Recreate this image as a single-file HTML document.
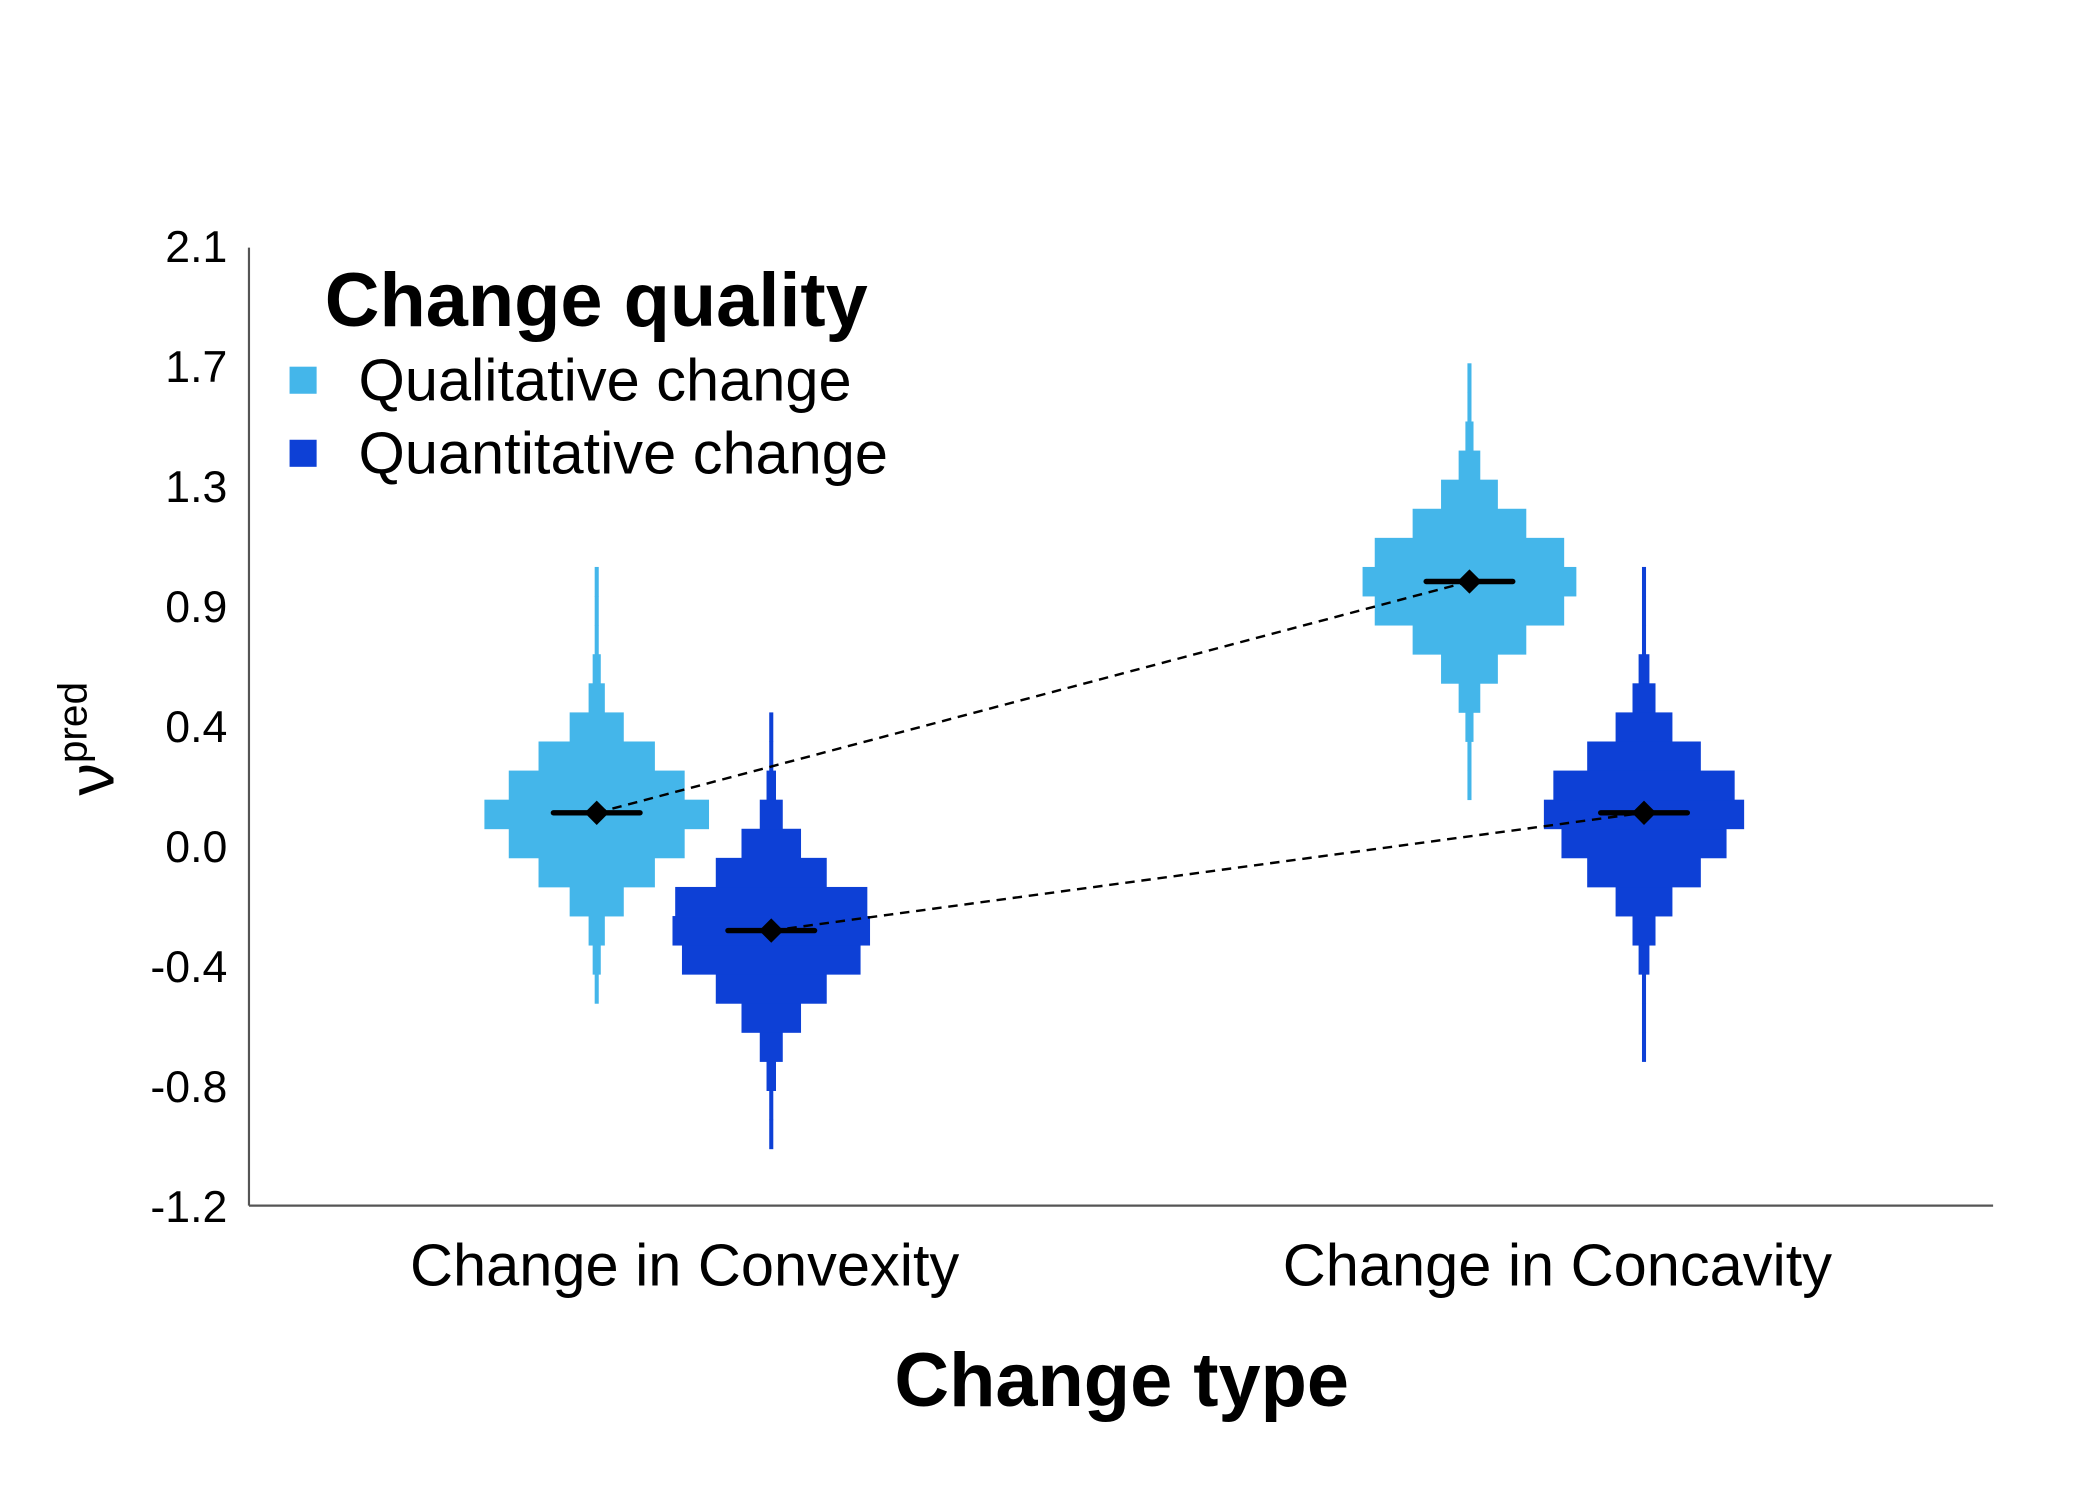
<!DOCTYPE html>
<html><head><meta charset="utf-8"><style>
html,body{margin:0;padding:0;background:#fff;}
svg{display:block;font-family:"Liberation Sans",sans-serif;}
</style></head><body>
<svg id="chart" width="2100" height="1500" viewBox="0 0 1552 1108.57" preserveAspectRatio="none" xmlns="http://www.w3.org/2000/svg">
<g id="marks"></g>
<line x1="184" y1="183" x2="184" y2="891" stroke="#555" stroke-width="1.6"/>
<line x1="184" y1="891" x2="1473" y2="891" stroke="#555" stroke-width="1.6"/>
<g id="yticks"></g>
<g id="xticks"></g>
<text x="829" y="1039" text-anchor="middle" font-size="56" font-weight="bold">Change type</text>
<text transform="translate(84,588) rotate(-90)" font-size="48">ν<tspan font-size="30" dy="-20">pred</tspan></text>
<g>
<text x="240" y="241" font-size="56" font-weight="bold">Change quality</text>
<rect x="214" y="271" width="20" height="20" fill="#44b6ea"/>
<text x="265" y="296" font-size="44">Qualitative change</text>
<rect x="214" y="325" width="20" height="20" fill="#0d40d6"/>
<text x="265" y="350" font-size="44">Quantitative change</text>
</g>
</svg>
<script>
const categories = ["Change in Convexity", "Change in Concavity"];
const groups = ["Qualitative change", "Quantitative change"];
const colors = ["#44b6ea", "#0d40d6"];
const binSize = 0.1;
// violin data: [category][group]
const binStarts = [[-0.5, -1.0], [0.2, -0.7]];
const densConvQual = [1.5,3,6,20,43,65,83,65,43,20,6,3,1.5,1.5,1.5];
const densConvQuant = [1.5,1.5,3.5,8.5,22,41,66,73,71,41,22,8.5,3.5,1.5,1.5];
const densConcQual = [1.5,1.5,3,8,21,42,70,79,70,42,21,8,3,1.5,1.5];
const densConcQuant = [1.5,1.5,1.5,4,8.5,21,42,61,74,67,42,21,8.5,4,1.5,1.5,1.5];
const densities = [[densConvQual, densConvQuant], [densConcQual, densConcQuant]];
const medians = [[0.155, -0.25], [0.95, 0.155]];
const yTickVals = [-1.2,-0.7875,-0.375,0.0375,0.45,0.8625,1.275,1.6875,2.1];
const yTickLabels = ["-1.2","-0.8","-0.4","0.0","0.4","0.9","1.3","1.7","2.1"];

const NS = "http://www.w3.org/2000/svg";
const yScale = v => 634 - v * 215;
const xScale = (c, g) => 505.5 + c * 645 + (g === 0 ? -64.5 : 64.5);
const wScale = d => d;
function mk(tag, attrs, parent) {
  const e = document.createElementNS(NS, tag);
  for (const k in attrs) e.setAttribute(k, attrs[k]);
  parent.appendChild(e);
  return e;
}
const marks = document.getElementById('marks');
categories.forEach((cat, c) => {
  groups.forEach((grp, g) => {
    const cx = xScale(c, g);
    const dens = densities[c][g];
    const gEl = mk('g', {}, marks);
    
    
    dens.forEach((d, i) => {
      const lo = binStarts[c][g] + i * binSize;
      const y1 = yScale(lo + binSize), y0 = yScale(lo);
      const r = mk('rect', {x: cx - wScale(d), y: y1, width: 2 * wScale(d), height: y0 - y1 + 0.3, fill: colors[g]}, gEl);
      
      
    });
  });
});
groups.forEach((grp, g) => {
  const l = mk('line', {x1: xScale(0, g), y1: yScale(medians[0][g]), x2: xScale(1, g), y2: yScale(medians[1][g]), stroke: '#000', 'stroke-width': 1.8, 'stroke-dasharray': '7,5'}, marks);
  
  
});
categories.forEach((cat, c) => {
  groups.forEach((grp, g) => {
    const cx = xScale(c, g), cy = yScale(medians[c][g]);
    const l = mk('line', {x1: cx - 32, y1: cy, x2: cx + 32, y2: cy, stroke: '#000', 'stroke-width': 4, 'stroke-linecap': 'round'}, marks);
    
    
    const p = mk('polygon', {points: `${cx-9},${cy} ${cx},${cy-9} ${cx+9},${cy} ${cx},${cy+9}`, fill: '#000'}, marks);
    
    
  });
});
const yt = document.getElementById('yticks');
yTickVals.forEach((v, i) => {
  const t = mk('text', {x: 168, y: yScale(v) + 11, 'text-anchor': 'end', 'font-size': 33}, yt);
  t.textContent = yTickLabels[i];
  
  
});
const xt = document.getElementById('xticks');
categories.forEach((cat, c) => {
  const t = mk('text', {x: 506 + c * 645, y: 950, 'text-anchor': 'middle', 'font-size': 44}, xt);
  t.textContent = cat;
  
  
});
</script>
</body></html>
